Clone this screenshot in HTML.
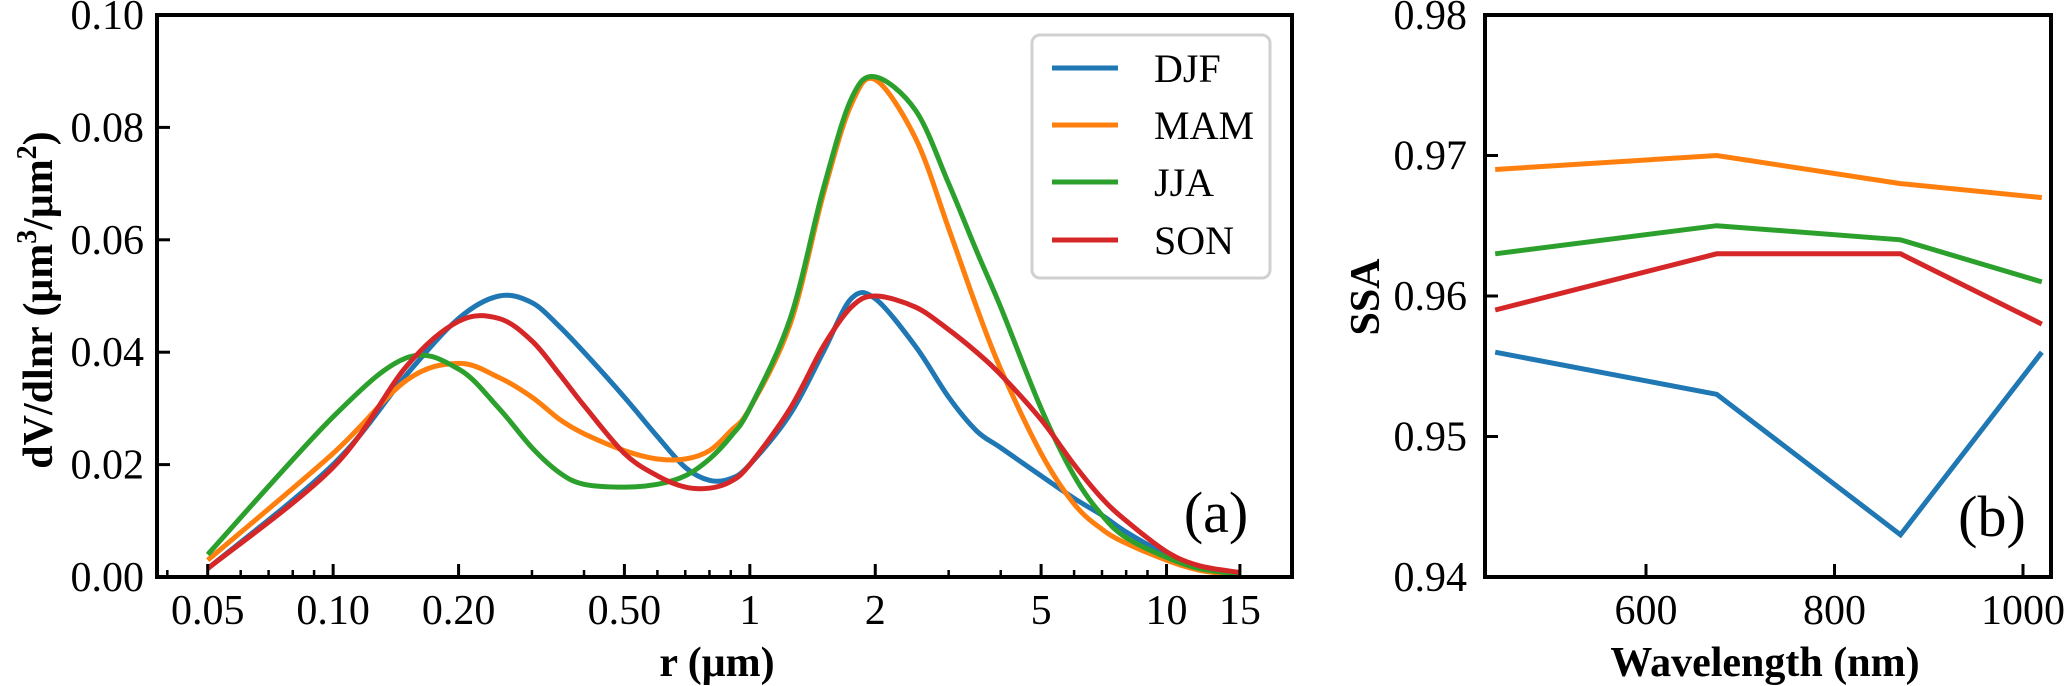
<!DOCTYPE html>
<html><head><meta charset="utf-8"><style>
html,body{margin:0;padding:0;background:#fff}
svg{display:block;font-family:"Liberation Serif",serif}
</style></head><body>
<svg id="fig" width="2067" height="686" viewBox="0 0 2067 686" xmlns="http://www.w3.org/2000/svg"></svg>
<script>
// ---- Panel (a) data ----
const radii = [0.05,0.1,0.15,0.2,0.25,0.3,0.35,0.4,0.5,0.6,0.7,0.8,0.9,1,1.25,1.5,1.75,2,2.5,3,3.5,4,5,6,7,8,10,12,15];
const djfVals = [0.0015,0.020,0.036,0.046,0.050,0.0488,0.0445,0.040,0.032,0.025,0.0195,0.0172,0.0175,0.020,0.029,0.040,0.0495,0.0495,0.041,0.032,0.026,0.023,0.018,0.014,0.011,0.008,0.004,0.0015,0.0005];
const mamVals = [0.003,0.022,0.035,0.038,0.0355,0.032,0.028,0.0255,0.0225,0.021,0.021,0.0225,0.026,0.030,0.045,0.068,0.084,0.0885,0.078,0.062,0.048,0.037,0.022,0.013,0.0085,0.006,0.003,0.0012,0.0003];
const jjaVals = [0.004,0.0285,0.039,0.037,0.030,0.023,0.0185,0.0165,0.016,0.0165,0.018,0.021,0.025,0.030,0.046,0.069,0.085,0.089,0.083,0.070,0.058,0.048,0.030,0.018,0.011,0.007,0.0035,0.0015,0.0005];
const sonVals = [0.0015,0.0195,0.0375,0.0455,0.046,0.042,0.036,0.0305,0.022,0.018,0.016,0.0158,0.017,0.020,0.030,0.041,0.048,0.050,0.048,0.044,0.040,0.036,0.028,0.020,0.014,0.010,0.0045,0.002,0.0008];
const seriesNames = ["DJF","MAM","JJA","SON"];
const xTicksA = [0.05,0.1,0.2,0.5,1,2,5,10,15];
const xTickLabelsA = ["0.05","0.10","0.20","0.50","1","2","5","10","15"];
const yTicksA = [0,0.02,0.04,0.06,0.08,0.10];
const yTickLabelsA = ["0.00","0.02","0.04","0.06","0.08","0.10"];
// ---- Panel (b) data ----
const wavelengths = [440,675,870,1020];
const djfSSA = [0.956,0.953,0.943,0.956];
const mamSSA = [0.969,0.970,0.968,0.967];
const jjaSSA = [0.963,0.965,0.964,0.961];
const sonSSA = [0.959,0.963,0.963,0.958];
const xTicksB = [600,800,1000];
const yTicksB = [0.94,0.95,0.96,0.97,0.98];
const yTickLabelsB = ["0.94","0.95","0.96","0.97","0.98"];

const colors = ["#1f77b4","#ff7f0e","#2ca02c","#d62728"];
const NS = "http://www.w3.org/2000/svg";
const svg = document.getElementById('fig');
function mk(tag, attrs, parent){const e=document.createElementNS(NS,tag);for(const k in attrs)e.setAttribute(k,attrs[k]);(parent||svg).appendChild(e);return e;}

const A = {l:157,r:1292,t:15,b:577};
const xA = r => 207.7 + 416.7*Math.log10(r/0.05);
const yA = v => A.b - v*(A.b-A.t)/0.10;
const B = {l:1485,r:2051,t:15,b:577};
const xB = w => 1646 + (w-600)*0.9425;
const yB = v => B.b - (v-0.94)*(B.b-B.t)/0.04;

function splinePath(pts){
  let d='M'+pts[0][0].toFixed(1)+','+pts[0][1].toFixed(1);
  for(let i=0;i<pts.length-1;i++){
    const p0=pts[Math.max(0,i-1)],p1=pts[i],p2=pts[i+1],p3=pts[Math.min(pts.length-1,i+2)];
    const c1=[p1[0]+(p2[0]-p0[0])/6,p1[1]+(p2[1]-p0[1])/6];
    const c2=[p2[0]-(p3[0]-p1[0])/6,p2[1]-(p3[1]-p1[1])/6];
    d+=' C'+c1[0].toFixed(1)+','+c1[1].toFixed(1)+' '+c2[0].toFixed(1)+','+c2[1].toFixed(1)+' '+p2[0].toFixed(1)+','+p2[1].toFixed(1);
  }
  return d;
}

const gA = mk('g',{});


const valsA=[djfVals,mamVals,jjaVals,sonVals];
valsA.forEach((vals,i)=>{
  const pts=radii.map((r,j)=>[xA(r),yA(vals[j])]);
  const p = mk('path',{d:splinePath(pts),fill:'none',stroke:colors[i],'stroke-width':5,'stroke-linejoin':'round'},gA);
  
  
});
const minorA=[0.04,0.06,0.07,0.08,0.09,0.3,0.4,0.6,0.7,0.8,0.9,3,4,6,7,8,9,20];
minorA.forEach(m=>{const x=xA(m); if(x>A.l+2&&x<A.r-2){const t=mk('line',{x1:x,x2:x,y1:A.b,y2:A.b-7,stroke:'#000','stroke-width':2.5},gA);}});
xTicksA.forEach((v,i)=>{const x=xA(v);
  const t=mk('line',{x1:x,x2:x,y1:A.b,y2:A.b-13,stroke:'#000','stroke-width':3},gA);
  const tx=mk('text',{x:x,y:624,'font-size':42,'text-anchor':'middle'},gA);tx.textContent=xTickLabelsA[i];});
yTicksA.forEach((v,i)=>{const y=yA(v);
  const t=mk('line',{x1:A.l,x2:A.l+13,y1:y,y2:y,stroke:'#000','stroke-width':3},gA);
  const tx=mk('text',{x:144,y:y+14,'font-size':42,'text-anchor':'end'},gA);tx.textContent=yTickLabelsA[i];});
const fA=mk('rect',{x:A.l,y:A.t,width:A.r-A.l,height:A.b-A.t,fill:'none',stroke:'#000','stroke-width':4},gA);

const leg=mk('g',{},gA);
const lr=mk('rect',{x:1032,y:35,width:238,height:243,rx:8,fill:'#fff',stroke:'#d0d0d0','stroke-width':3},leg);

const legY=[68,125,182,240];
seriesNames.forEach((n,i)=>{
  const e=mk('g',{},leg);
  mk('line',{x1:1052,x2:1118,y1:legY[i],y2:legY[i],stroke:colors[i],'stroke-width':5},e);
  const t=mk('text',{x:1154,y:legY[i]+14,'font-size':40},e);t.textContent=n;
});
const la=mk('text',{x:1216,y:532,'font-size':58,'text-anchor':'middle'},gA);la.textContent='(a)';

const xtA=mk('text',{x:717,y:676,'font-size':42,'font-weight':'bold','text-anchor':'middle'},gA);xtA.textContent='r (μm)';

const ytA=mk('text',{x:0,y:0,'font-size':42,'font-weight':'bold','text-anchor':'middle',transform:'translate(52,300) rotate(-90)'},gA);

ytA.innerHTML='dV/dlnr (μm<tspan font-size="28" dy="-16">3</tspan><tspan dy="16">/μm</tspan><tspan font-size="28" dy="-16">2</tspan><tspan dy="16">)</tspan>';

const gB = mk('g',{});


const valsB=[djfSSA,mamSSA,jjaSSA,sonSSA];
valsB.forEach((vals,i)=>{
  const p=mk('polyline',{points:wavelengths.map((w,j)=>xB(w).toFixed(1)+','+yB(vals[j]).toFixed(1)).join(' '),fill:'none',stroke:colors[i],'stroke-width':5,'stroke-linejoin':'miter'},gB);
  
  
});
xTicksB.forEach(v=>{const x=xB(v);
  const t=mk('line',{x1:x,x2:x,y1:B.b,y2:B.b-13,stroke:'#000','stroke-width':3},gB);
  const tx=mk('text',{x:x,y:624,'font-size':42,'text-anchor':'middle'},gB);tx.textContent=String(v);});
yTicksB.forEach((v,i)=>{const y=yB(v);
  const t=mk('line',{x1:B.l,x2:B.l+13,y1:y,y2:y,stroke:'#000','stroke-width':3},gB);
  const tx=mk('text',{x:1467,y:y+14,'font-size':42,'text-anchor':'end'},gB);tx.textContent=yTickLabelsB[i];});
const fB=mk('rect',{x:B.l,y:B.t,width:B.r-B.l,height:B.b-B.t,fill:'none',stroke:'#000','stroke-width':4},gB);

const lb=mk('text',{x:1992,y:536,'font-size':58,'text-anchor':'middle'},gB);lb.textContent='(b)';

const xtB=mk('text',{x:1765,y:676,'font-size':42,'font-weight':'bold','text-anchor':'middle'},gB);xtB.textContent='Wavelength (nm)';

const ytB=mk('text',{x:0,y:0,'font-size':42,'font-weight':'bold','text-anchor':'middle',transform:'translate(1379,297) rotate(-90)'},gB);ytB.textContent='SSA';

</script>
</body></html>
